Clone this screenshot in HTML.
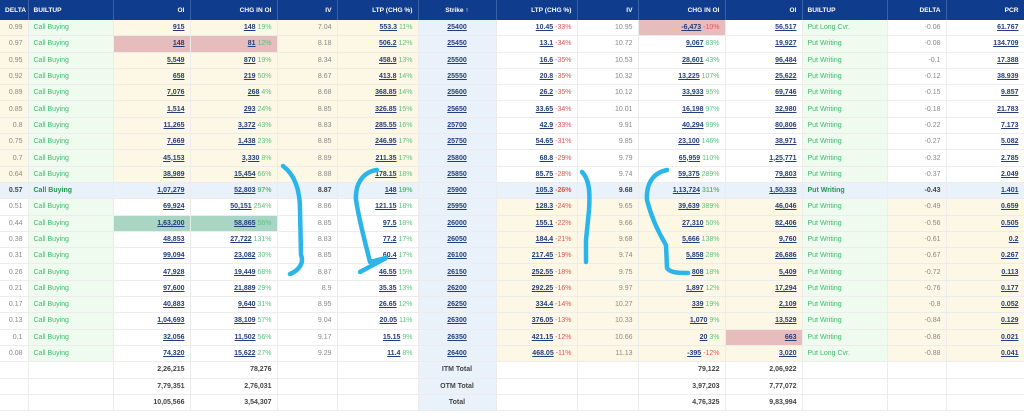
<!DOCTYPE html>
<html><head><meta charset="utf-8">
<style>
body{margin:0;width:1024px;height:418px;overflow:hidden;background:#fff;font-family:"Liberation Sans",sans-serif;}
table{border-collapse:collapse;table-layout:fixed;width:1024px;font-size:7px;}
th{background:#0f3c8c;color:#fff;height:20px;font-weight:bold;font-size:6.6px;text-align:right;padding:0 5px;border-right:1px solid #3a62a8;}
th.l{text-align:left}th.cc{text-align:center}
td{height:15.3px;padding:0 5px;border-bottom:1px solid #ececec;border-right:1px solid #ececec;text-align:right;color:#888;white-space:nowrap;overflow:hidden}
td.bc,td.bp{text-align:left;color:#3cba6e;background:#effbef}
td.s{text-align:center;background:#e9f1fb}
u{color:#233f7a;font-weight:bold;text-decoration:underline}
g{color:#5cc27e}r{color:#e05555}
tr.a td.c{background:#fdf8e6}
tr.z td.p{background:#fdf8e6}
tr.m td{background:#e9f1fb;font-weight:bold;color:#444}
tr.m td.bc,tr.m td.bp{color:#1f9a4a}
tr.t td{font-weight:bold;color:#444}
.pk{background:#e6bcbc!important}.tl{background:#a9d5c5!important}
svg{position:absolute;left:0;top:0}
</style></head><body>
<table>
<colgroup><col style="width:28px"><col style="width:85px"><col style="width:77px"><col style="width:87px"><col style="width:60px"><col style="width:81px"><col style="width:78px"><col style="width:81px"><col style="width:61px"><col style="width:87px"><col style="width:77px"><col style="width:85px"><col style="width:59px"><col style="width:78px"></colgroup>
<tr><th>DELTA</th><th class="l">BUILTUP</th><th>OI</th><th>CHG IN OI</th><th>IV</th><th>LTP (CHG %)</th><th class="cc">Strike ↑</th><th>LTP (CHG %)</th><th>IV</th><th>CHG IN OI</th><th>OI</th><th class="l">BUILTUP</th><th>DELTA</th><th>PCR</th></tr>
<tr class="a"><td class="c">0.99</td><td class="bc">Call Buying</td><td class="c"><u>915</u></td><td class="c"><u>148</u> <g>19%</g></td><td class="c">7.04</td><td class="c"><u>553.3</u> <g>11%</g></td><td class="s"><u>25400</u></td><td class="p"><u>10.45</u> <r>-33%</r></td><td class="p">10.95</td><td class="p pk"><u>-6,473</u> <r>-10%</r></td><td class="p"><u>56,517</u></td><td class="bp">Put Long Cvr.</td><td class="p">-0.06</td><td class="p"><u>61.767</u></td></tr>
<tr class="a"><td class="c">0.97</td><td class="bc">Call Buying</td><td class="c pk"><u>148</u></td><td class="c pk"><u>81</u> <g>12%</g></td><td class="c">8.18</td><td class="c"><u>506.2</u> <g>12%</g></td><td class="s"><u>25450</u></td><td class="p"><u>13.1</u> <r>-34%</r></td><td class="p">10.72</td><td class="p"><u>9,067</u> <g>83%</g></td><td class="p"><u>19,927</u></td><td class="bp">Put Writing</td><td class="p">-0.08</td><td class="p"><u>134.709</u></td></tr>
<tr class="a"><td class="c">0.95</td><td class="bc">Call Buying</td><td class="c"><u>5,549</u></td><td class="c"><u>870</u> <g>19%</g></td><td class="c">8.34</td><td class="c"><u>458.9</u> <g>13%</g></td><td class="s"><u>25500</u></td><td class="p"><u>16.6</u> <r>-35%</r></td><td class="p">10.53</td><td class="p"><u>28,601</u> <g>43%</g></td><td class="p"><u>96,484</u></td><td class="bp">Put Writing</td><td class="p">-0.1</td><td class="p"><u>17.388</u></td></tr>
<tr class="a"><td class="c">0.92</td><td class="bc">Call Buying</td><td class="c"><u>658</u></td><td class="c"><u>219</u> <g>50%</g></td><td class="c">8.67</td><td class="c"><u>413.8</u> <g>14%</g></td><td class="s"><u>25550</u></td><td class="p"><u>20.8</u> <r>-35%</r></td><td class="p">10.32</td><td class="p"><u>13,225</u> <g>107%</g></td><td class="p"><u>25,622</u></td><td class="bp">Put Writing</td><td class="p">-0.12</td><td class="p"><u>38.939</u></td></tr>
<tr class="a"><td class="c">0.89</td><td class="bc">Call Buying</td><td class="c"><u>7,076</u></td><td class="c"><u>268</u> <g>4%</g></td><td class="c">8.68</td><td class="c"><u>368.85</u> <g>14%</g></td><td class="s"><u>25600</u></td><td class="p"><u>26.2</u> <r>-35%</r></td><td class="p">10.12</td><td class="p"><u>33,933</u> <g>95%</g></td><td class="p"><u>69,746</u></td><td class="bp">Put Writing</td><td class="p">-0.15</td><td class="p"><u>9.857</u></td></tr>
<tr class="a"><td class="c">0.85</td><td class="bc">Call Buying</td><td class="c"><u>1,514</u></td><td class="c"><u>293</u> <g>24%</g></td><td class="c">8.85</td><td class="c"><u>326.85</u> <g>15%</g></td><td class="s"><u>25650</u></td><td class="p"><u>33.65</u> <r>-34%</r></td><td class="p">10.01</td><td class="p"><u>16,198</u> <g>97%</g></td><td class="p"><u>32,980</u></td><td class="bp">Put Writing</td><td class="p">-0.18</td><td class="p"><u>21.783</u></td></tr>
<tr class="a"><td class="c">0.8</td><td class="bc">Call Buying</td><td class="c"><u>11,265</u></td><td class="c"><u>3,372</u> <g>43%</g></td><td class="c">8.83</td><td class="c"><u>285.55</u> <g>16%</g></td><td class="s"><u>25700</u></td><td class="p"><u>42.9</u> <r>-33%</r></td><td class="p">9.91</td><td class="p"><u>40,294</u> <g>99%</g></td><td class="p"><u>80,806</u></td><td class="bp">Put Writing</td><td class="p">-0.22</td><td class="p"><u>7.173</u></td></tr>
<tr class="a"><td class="c">0.75</td><td class="bc">Call Buying</td><td class="c"><u>7,669</u></td><td class="c"><u>1,438</u> <g>23%</g></td><td class="c">8.85</td><td class="c"><u>246.95</u> <g>17%</g></td><td class="s"><u>25750</u></td><td class="p"><u>54.65</u> <r>-31%</r></td><td class="p">9.85</td><td class="p"><u>23,100</u> <g>146%</g></td><td class="p"><u>38,971</u></td><td class="bp">Put Writing</td><td class="p">-0.27</td><td class="p"><u>5.082</u></td></tr>
<tr class="a"><td class="c">0.7</td><td class="bc">Call Buying</td><td class="c"><u>45,153</u></td><td class="c"><u>3,330</u> <g>8%</g></td><td class="c">8.89</td><td class="c"><u>211.35</u> <g>17%</g></td><td class="s"><u>25800</u></td><td class="p"><u>68.8</u> <r>-29%</r></td><td class="p">9.79</td><td class="p"><u>65,959</u> <g>110%</g></td><td class="p"><u>1,25,771</u></td><td class="bp">Put Writing</td><td class="p">-0.32</td><td class="p"><u>2.785</u></td></tr>
<tr class="a"><td class="c">0.64</td><td class="bc">Call Buying</td><td class="c"><u>38,989</u></td><td class="c"><u>15,454</u> <g>66%</g></td><td class="c">8.88</td><td class="c"><u>178.15</u> <g>18%</g></td><td class="s"><u>25850</u></td><td class="p"><u>85.75</u> <r>-28%</r></td><td class="p">9.74</td><td class="p"><u>59,375</u> <g>289%</g></td><td class="p"><u>79,803</u></td><td class="bp">Put Writing</td><td class="p">-0.37</td><td class="p"><u>2.049</u></td></tr>
<tr class="m"><td>0.57</td><td class="bc">Call Buying</td><td><u>1,07,279</u></td><td><u>52,803</u> <g>97%</g></td><td>8.87</td><td><u>148</u> <g>19%</g></td><td class="s"><u>25900</u></td><td><u>105.3</u> <r>-26%</r></td><td>9.68</td><td><u>1,13,724</u> <g>311%</g></td><td><u>1,50,333</u></td><td class="bp">Put Writing</td><td>-0.43</td><td><u>1.401</u></td></tr>
<tr class="z"><td class="c">0.51</td><td class="bc">Call Buying</td><td class="c"><u>69,924</u></td><td class="c"><u>50,151</u> <g>254%</g></td><td class="c">8.86</td><td class="c"><u>121.15</u> <g>18%</g></td><td class="s"><u>25950</u></td><td class="p"><u>128.3</u> <r>-24%</r></td><td class="p">9.65</td><td class="p"><u>39,639</u> <g>389%</g></td><td class="p"><u>46,046</u></td><td class="bp">Put Writing</td><td class="p">-0.49</td><td class="p"><u>0.659</u></td></tr>
<tr class="z"><td class="c">0.44</td><td class="bc">Call Buying</td><td class="c tl"><u>1,63,200</u></td><td class="c tl"><u>58,865</u> <g>56%</g></td><td class="c">8.85</td><td class="c"><u>97.5</u> <g>18%</g></td><td class="s"><u>26000</u></td><td class="p"><u>155.1</u> <r>-22%</r></td><td class="p">9.66</td><td class="p"><u>27,310</u> <g>50%</g></td><td class="p"><u>82,406</u></td><td class="bp">Put Writing</td><td class="p">-0.56</td><td class="p"><u>0.505</u></td></tr>
<tr class="z"><td class="c">0.38</td><td class="bc">Call Buying</td><td class="c"><u>48,853</u></td><td class="c"><u>27,722</u> <g>131%</g></td><td class="c">8.83</td><td class="c"><u>77.2</u> <g>17%</g></td><td class="s"><u>26050</u></td><td class="p"><u>184.4</u> <r>-21%</r></td><td class="p">9.68</td><td class="p"><u>5,666</u> <g>138%</g></td><td class="p"><u>9,760</u></td><td class="bp">Put Writing</td><td class="p">-0.61</td><td class="p"><u>0.2</u></td></tr>
<tr class="z"><td class="c">0.31</td><td class="bc">Call Buying</td><td class="c"><u>99,094</u></td><td class="c"><u>23,082</u> <g>30%</g></td><td class="c">8.85</td><td class="c"><u>60.4</u> <g>17%</g></td><td class="s"><u>26100</u></td><td class="p"><u>217.45</u> <r>-19%</r></td><td class="p">9.74</td><td class="p"><u>5,858</u> <g>28%</g></td><td class="p"><u>26,686</u></td><td class="bp">Put Writing</td><td class="p">-0.67</td><td class="p"><u>0.267</u></td></tr>
<tr class="z"><td class="c">0.26</td><td class="bc">Call Buying</td><td class="c"><u>47,928</u></td><td class="c"><u>19,449</u> <g>68%</g></td><td class="c">8.87</td><td class="c"><u>46.55</u> <g>15%</g></td><td class="s"><u>26150</u></td><td class="p"><u>252.55</u> <r>-18%</r></td><td class="p">9.75</td><td class="p"><u>808</u> <g>18%</g></td><td class="p"><u>5,409</u></td><td class="bp">Put Writing</td><td class="p">-0.72</td><td class="p"><u>0.113</u></td></tr>
<tr class="z"><td class="c">0.21</td><td class="bc">Call Buying</td><td class="c"><u>97,600</u></td><td class="c"><u>21,889</u> <g>29%</g></td><td class="c">8.9</td><td class="c"><u>35.35</u> <g>13%</g></td><td class="s"><u>26200</u></td><td class="p"><u>292.25</u> <r>-16%</r></td><td class="p">9.97</td><td class="p"><u>1,897</u> <g>12%</g></td><td class="p"><u>17,294</u></td><td class="bp">Put Writing</td><td class="p">-0.76</td><td class="p"><u>0.177</u></td></tr>
<tr class="z"><td class="c">0.17</td><td class="bc">Call Buying</td><td class="c"><u>40,883</u></td><td class="c"><u>9,640</u> <g>31%</g></td><td class="c">8.95</td><td class="c"><u>26.65</u> <g>12%</g></td><td class="s"><u>26250</u></td><td class="p"><u>334.4</u> <r>-14%</r></td><td class="p">10.27</td><td class="p"><u>339</u> <g>19%</g></td><td class="p"><u>2,109</u></td><td class="bp">Put Writing</td><td class="p">-0.8</td><td class="p"><u>0.052</u></td></tr>
<tr class="z"><td class="c">0.13</td><td class="bc">Call Buying</td><td class="c"><u>1,04,693</u></td><td class="c"><u>38,109</u> <g>57%</g></td><td class="c">9.04</td><td class="c"><u>20.05</u> <g>11%</g></td><td class="s"><u>26300</u></td><td class="p"><u>376.05</u> <r>-13%</r></td><td class="p">10.33</td><td class="p"><u>1,070</u> <g>9%</g></td><td class="p"><u>13,529</u></td><td class="bp">Put Writing</td><td class="p">-0.84</td><td class="p"><u>0.129</u></td></tr>
<tr class="z"><td class="c">0.1</td><td class="bc">Call Buying</td><td class="c"><u>32,056</u></td><td class="c"><u>11,502</u> <g>56%</g></td><td class="c">9.17</td><td class="c"><u>15.15</u> <g>9%</g></td><td class="s"><u>26350</u></td><td class="p"><u>421.15</u> <r>-12%</r></td><td class="p">10.66</td><td class="p"><u>20</u> <g>3%</g></td><td class="p pk"><u>663</u></td><td class="bp">Put Writing</td><td class="p">-0.86</td><td class="p"><u>0.021</u></td></tr>
<tr class="z"><td class="c">0.08</td><td class="bc">Call Buying</td><td class="c"><u>74,320</u></td><td class="c"><u>15,622</u> <g>27%</g></td><td class="c">9.29</td><td class="c"><u>11.4</u> <g>8%</g></td><td class="s"><u>26400</u></td><td class="p"><u>468.05</u> <r>-11%</r></td><td class="p">11.13</td><td class="p"><u>-395</u> <r>-12%</r></td><td class="p"><u>3,020</u></td><td class="bp">Put Long Cvr.</td><td class="p">-0.88</td><td class="p"><u>0.041</u></td></tr>
<tr class="t"><td></td><td></td><td>2,26,215</td><td>78,276</td><td></td><td></td><td class="s">ITM Total</td><td></td><td></td><td>79,122</td><td>2,06,922</td><td></td><td></td><td></td></tr>
<tr class="t"><td></td><td></td><td>7,79,351</td><td>2,76,031</td><td></td><td></td><td class="s">OTM Total</td><td></td><td></td><td>3,97,203</td><td>7,77,072</td><td></td><td></td><td></td></tr>
<tr class="t"><td></td><td></td><td>10,05,566</td><td>3,54,307</td><td></td><td></td><td class="s">Total</td><td></td><td></td><td>4,76,325</td><td>9,83,994</td><td></td><td></td><td></td></tr>
</table>
<svg width="1024" height="418" viewBox="0 0 1024 418" fill="none" stroke="#2cb5e8" stroke-width="4.5" stroke-linecap="round" stroke-linejoin="round">
<path d="M283 166 C295 175 300 190 300 210 L301 255 C304 262 300 270 290 274"/>
<path d="M377 170 C362 172 355 185 356 200 C360 225 366 245 370 262 L386 258 L360 272"/>
<path d="M582 172 C590 180 590 195 589 210 L586 240 L586 262"/>
<path d="M667 170 C652 173 646 185 647 200 C652 220 660 235 666 245 L667 268 C670 273 680 273 688 273"/>
</svg>
</body></html>
